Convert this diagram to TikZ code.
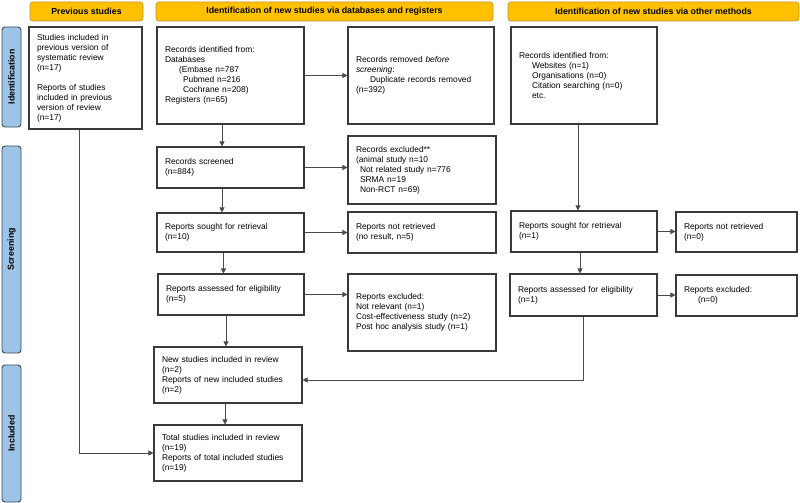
\documentclass[tikz,border=0pt]{standalone}
\usepackage{fontspec}
\setmainfont{Liberation Sans}
\usepackage{xcolor}
\usepackage{tikz}
\usetikzlibrary{positioning, arrows.meta, calc}
\definecolor{header}{HTML}{FFC000}
\definecolor{headerline}{HTML}{C9982B}
\definecolor{stage}{HTML}{9DC3E6}
\definecolor{stageline}{HTML}{3B4A5A}
\definecolor{frame}{HTML}{3A3A3A}
\definecolor{link}{HTML}{4A4A4A}
\tikzset{
  phase/.style={draw=headerline, fill=header, rounded corners=3pt, line width=0.8pt,
    minimum height=19pt, inner sep=0pt, font=\fontsize{8.8}{10}\selectfont\bfseries},
  stagebar/.style={draw=stageline, fill=stage, rounded corners=3pt, line width=0.9pt,
    rotate=90, minimum height=19pt, inner sep=0pt, font=\fontsize{8.8}{10}\selectfont\bfseries},
  box/.style={draw=frame, fill=white, line width=1.1pt, align=left, inner xsep=8pt,
    inner ysep=0pt, font=\fontsize{8.4}{10}\selectfont},
  arr/.style={draw=link, line width=0.8pt, -{Triangle[length=5pt, width=5pt]}}
}
\begin{document}
\begin{tikzpicture}[x=1pt, y=-1pt]
  \useasboundingbox (0,0) rectangle (800,503);
  \node[phase, minimum width=113pt] (hprev) at (86.5,11.5) {Previous studies};
  \node[phase, minimum width=337pt] (hdb) at (324.5,11.5) {Identification of new studies via databases and registers};
  \node[phase, minimum width=291pt] (hother) at (653.5,11.5) {Identification of new studies via other methods};
  \node[stagebar, minimum width=100pt] (sident) at (11.5,77) {Identification};
  \node[stagebar, minimum width=207pt] (sscreen) at (11.5,249.5) {Screening};
  \node[stagebar, minimum width=137pt] (sincl) at (11.5,433.5) {Included};

  \node[box, text width=97pt, minimum height=102pt] (prev) at (85.5,78) {Studies included in\\ previous version of\\ systematic review\\ (n=17)\\[10pt] Reports of studies\\ included in previous\\ version of review\\ (n=17)};
  \node[box, text width=131pt, minimum height=97pt] (db) at (230.5,75.5) {Records identified from:\\ Databases\\ \hspace*{14pt}(Embase n=787\\ \hspace*{18pt}Pubmed n=216\\ \hspace*{18pt}Cochrane n=208)\\ Registers (n=65)};
  \node[box, text width=130pt, minimum height=97pt] (removed) at (421,75.5) {Records removed \textit{before}\\ \textit{screening}:\\ \hspace*{14pt}Duplicate records removed\\ (n=392)};
  \node[box, text width=130pt, minimum height=97pt] (other) at (584,75.5) {Records identified from:\\ \hspace*{13pt}Websites (n=1)\\ \hspace*{13pt}Organisations (n=0)\\ \hspace*{13pt}Citation searching (n=0)\\ \hspace*{13pt}etc.};
  \node[box, text width=131pt, minimum height=41pt] (screened) at (230.5,167.5) {Records screened\\ (n=884)};
  \node[box, text width=132pt, minimum height=68pt] (excluded) at (422,170) {Records excluded**\\ (animal study n=10\\ \hspace*{4pt}Not related study n=776\\ \hspace*{4pt}SRMA n=19\\ \hspace*{4pt}Non-RCT n=69)};
  \node[box, text width=131pt, minimum height=39pt] (sought) at (230.5,232.5) {Reports sought for retrieval\\ (n=10)};
  \node[box, text width=132pt, minimum height=41pt] (notret) at (422,232.5) {Reports not retrieved\\ (no result, n=5)};
  \node[box, text width=130pt, minimum height=41pt] (osought) at (584,231.5) {Reports sought for retrieval\\ (n=1)};
  \node[box, text width=105pt, minimum height=40pt] (onotret) at (736.5,232) {Reports not retrieved\\ (n=0)};
  \node[box, text width=130pt, minimum height=41pt] (assessed) at (231,294.5) {Reports assessed for eligibility\\ (n=5)};
  \node[box, text width=132pt, minimum height=77pt] (repexcl) at (422,312.5) {Reports excluded:\\ Not relevant (n=1)\\ Cost-effectiveness study (n=2)\\ Post hoc analysis study (n=1)};
  \node[box, text width=131pt, minimum height=42pt] (oassessed) at (583.5,295) {Reports assessed for eligibility\\ (n=1)};
  \node[box, text width=105pt, minimum height=41pt] (orepexcl) at (736.5,295.5) {Reports excluded:\\ \hspace*{14pt}(n=0)};
  \node[box, text width=132pt, minimum height=56pt] (newinc) at (228,375) {New studies included in review\\ (n=2)\\ Reports of new included studies\\ (n=2)};
  \node[box, text width=132pt, minimum height=56pt] (total) at (228,453) {Total studies included in review\\ (n=19)\\ Reports of total included studies\\ (n=19)};

  \draw[arr] (db.east) -- (removed.west);
  \draw[arr] ([xshift=-8.5pt]db.south) -- ([xshift=-8.5pt]db.south |- screened.north);
  \draw[arr] (screened.east) -- (screened.east -| excluded.west);
  \draw[arr] ([xshift=-8.5pt]screened.south) -- ([xshift=-8.5pt]screened.south |- sought.north);
  \draw[arr] (sought.east) -- (sought.east -| notret.west);
  \draw[arr] ([xshift=-7pt]sought.south) -- ([xshift=-7pt]sought.south |- assessed.north);
  \draw[arr] (assessed.east) -- (assessed.east -| repexcl.west);
  \draw[arr] ([xshift=-5pt]assessed.south) -- ([xshift=-5pt]assessed.south |- newinc.north);
  \draw[arr] ([xshift=-3pt]newinc.south) -- ([xshift=-3pt]newinc.south |- total.north);
  \draw[arr] ([xshift=-6pt]other.south) -- ([xshift=-6pt]other.south |- osought.north);
  \draw[arr] (osought.east) -- (osought.east -| onotret.west);
  \draw[arr] ([xshift=-4pt]osought.south) -- ([xshift=-4pt]osought.south |- oassessed.north);
  \draw[arr] (oassessed.east) -- (oassessed.east -| orepexcl.west);
  \draw[arr] (oassessed.south) |- ([yshift=-5pt]newinc.east);
  \draw[arr] ([xshift=-6.5pt]prev.south) |- (total.west);
\end{tikzpicture}
\end{document}
